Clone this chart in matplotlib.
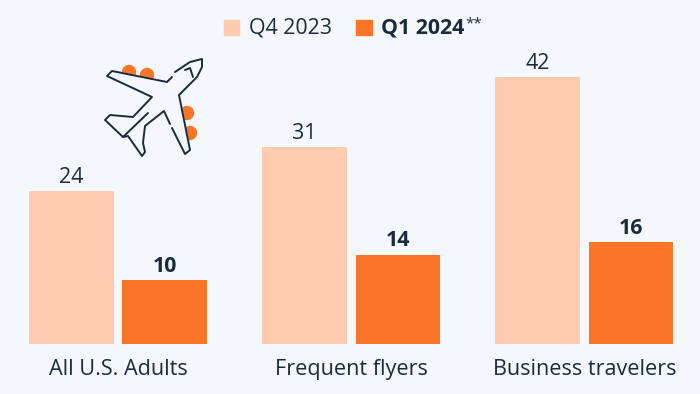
import numpy as np
import matplotlib
matplotlib.use('Agg')
import matplotlib.pyplot as plt
from matplotlib.patches import Circle

categories = ['All U.S. Adults', 'Frequent flyers', 'Business travelers']
q4_2023 = [24, 31, 42]
q1_2024 = [10, 14, 16]

bg = '#F4F8FC'
dark = '#1B2A3D'
light_orange = '#FDCBAD'
orange = '#FC7428'

plt.rcParams['font.family'] = ['Open Sans', 'DejaVu Sans']

fig = plt.figure(figsize=(7, 3.94), dpi=100, facecolor=bg)

# axes fills the whole figure, limits set so groups land where the original has them
ax = fig.add_axes([0, 0, 1, 1])
ax.set_facecolor(bg)
px_x = 233.25
px_y = 6.365
ax.set_xlim(-118 / px_x, (700 - 118) / px_x)
ax.set_ylim(-50 / px_y, 344 / px_y)
ax.axis('off')

x = np.arange(len(categories))
w = 84.5 / px_x
off = 46.75 / px_x
ax.bar(x - off, q4_2023, w, color=light_orange)
ax.bar(x + off, q1_2024, w, color=orange)

for i in x:
    ax.annotate(str(q4_2023[i]), (i - off, q4_2023[i]), xytext=(0, 2), textcoords='offset points',
                ha='center', va='bottom', fontsize=15.4, color=dark)
    ax.annotate(str(q1_2024[i]), (i + off, q1_2024[i]), xytext=(0, 2.5), textcoords='offset points',
                ha='center', va='bottom', fontsize=15.4, color=dark, fontweight='bold')
    ax.annotate(categories[i], (i, 0), xytext=(0, -10.5), textcoords='offset points',
                ha='center', va='top', fontsize=15.6, color=dark)

# overlay in pixel coordinates for legend and the plane icon
ov = fig.add_axes([0, 0, 1, 1])
ov.set_xlim(0, 700)
ov.set_ylim(394, 0)
ov.axis('off')
ov.patch.set_alpha(0)

ov.fill([224, 239, 239, 224], [20, 20, 35, 35], color=light_orange)
ov.fill([356, 372, 372, 356], [20, 20, 35, 35], color=orange)
ov.text(249, 27.5, 'Q4 2023', fontsize=15.4, color=dark, va='center')
ov.text(381, 27.5, 'Q1 2024', fontsize=15.4, color=dark, va='center', fontweight='bold')
ov.text(465.5, 24, '**', fontsize=11, color=dark, va='center')

# engine dots behind the plane
for cx, cy in [(129, 72), (147, 75), (187, 113), (190, 133)]:
    ov.add_patch(Circle((cx, cy), 6.5, color=orange, zorder=1))

nose = [(175, 72), (190, 62), (202, 59), (202, 67), (197, 77), (179, 95), (190, 150), (185, 154), (172, 128)]
rear = [(170, 124), (164, 111), (145, 126), (143, 143), (145, 152), (142, 156), (128, 136), (123, 137)]
tail = [(123, 137), (105, 120), (110, 115), (133, 117), (152, 97), (107, 76), (112, 71), (167, 82), (172, 77)]
body = nose + rear + tail
ov.fill([s[0] for s in body], [s[1] for s in body], color=bg, zorder=2)
for line in [nose, rear, tail, [(123, 137), (148, 113)], [(185, 70), (190, 68), (193, 77)]]:
    ov.plot([s[0] for s in line], [s[1] for s in line], color=dark, lw=1.4, zorder=3,
            solid_joinstyle='round', solid_capstyle='round')

fig.savefig('out.png', dpi=100, facecolor=bg)
